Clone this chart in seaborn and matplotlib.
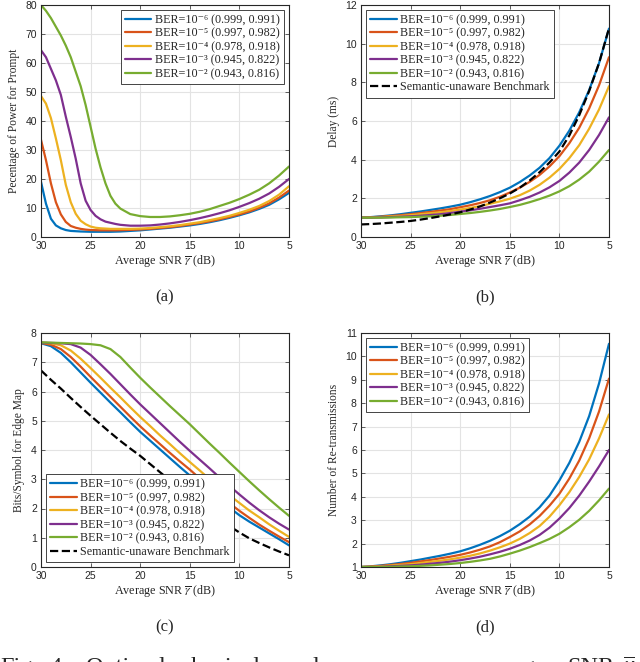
import numpy as np
import pandas as pd
import seaborn as sns
import matplotlib.pyplot as plt

# SNR grids (dB)
snr_a = [30, 29.5, 29, 28.5, 28, 27.5, 27, 26.5, 26, 25.5, 25, 24.5, 24, 23.5, 23, 22.5, 22,
         21, 20, 19, 18, 17, 16, 15, 14, 13, 12, 11, 10, 9, 8, 7, 6, 5]
snr = [30, 29, 28, 27, 26, 25, 24, 23, 22, 21, 20, 19, 18, 17, 16, 15, 14, 13, 12, 11, 10, 9, 8, 7, 6, 5]

labels = ['BER=10\u207b\u2076 (0.999, 0.991)',
          'BER=10\u207b\u2075 (0.997, 0.982)',
          'BER=10\u207b\u2074 (0.978, 0.918)',
          'BER=10\u207b\u00b3 (0.945, 0.822)',
          'BER=10\u207b\u00b2 (0.943, 0.816)']
bench_label = 'Semantic-unaware Benchmark'
colors = ['#0072BD', '#D95319', '#EDB120', '#7E2F8E', '#77AC30']

# (a) percentage of power for prompt
power_ber6 = [19.0, 11.5, 6.3, 4.0, 3.0, 2.4, 2.1, 2.0, 1.9, 1.85, 1.8, 1.8, 1.8, 1.8, 1.8, 1.85, 1.9,
              2.1, 2.3, 2.6, 2.9, 3.2, 3.6, 4.0, 4.5, 5.1, 5.8, 6.6, 7.5, 8.5, 9.7, 11.1, 13.0, 15.2]
power_ber5 = [33.5, 26.5, 18.5, 12.0, 7.8, 5.2, 3.8, 3.2, 2.8, 2.55, 2.4, 2.35, 2.3, 2.3, 2.3, 2.3, 2.35,
              2.45, 2.6, 2.8, 3.1, 3.4, 3.8, 4.3, 4.8, 5.4, 6.1, 6.9, 7.8, 8.8, 10.1, 11.6, 13.6, 16.0]
power_ber4 = [48.6, 46.0, 41.0, 34.0, 26.5, 18.0, 12.0, 8.0, 5.6, 4.4, 3.6, 3.2, 3.0, 2.9, 2.8, 2.8, 2.8,
              2.8, 2.9, 3.1, 3.4, 3.7, 4.1, 4.6, 5.1, 5.8, 6.5, 7.3, 8.3, 9.4, 10.7, 12.4, 14.6, 17.5]
power_ber3 = [64.4, 62.0, 58.0, 54.0, 49.0, 41.5, 34.5, 27.0, 18.5, 12.5, 9.3, 7.3, 6.1, 5.3, 4.9, 4.5, 4.2,
              3.9, 3.9, 4.0, 4.3, 4.7, 5.2, 5.8, 6.5, 7.3, 8.2, 9.2, 10.4, 11.7, 13.2, 15.0, 17.3, 20.0]
power_ber2 = [80.0, 78.0, 75.5, 72.5, 69.5, 66.0, 62.0, 57.0, 52.0, 45.5, 38.0, 30.5, 24.0, 18.5, 14.2, 11.5, 9.8,
              7.9, 7.2, 6.9, 6.9, 7.1, 7.5, 8.0, 8.7, 9.6, 10.7, 11.8, 13.1, 14.6, 16.3, 18.5, 21.2, 24.3]

# (b) delay (ms)
delay_ber6 = [1.00, 1.03, 1.07, 1.12, 1.18, 1.25, 1.32, 1.40, 1.48, 1.57, 1.67, 1.80, 1.95, 2.12, 2.32, 2.55,
              2.84, 3.18, 3.58, 4.08, 4.72, 5.50, 6.45, 7.60, 9.00, 10.78]
delay_ber5 = [1.00, 1.02, 1.05, 1.09, 1.13, 1.18, 1.24, 1.30, 1.37, 1.44, 1.54, 1.64, 1.76, 1.90, 2.08, 2.30,
              2.55, 2.85, 3.21, 3.65, 4.18, 4.85, 5.65, 6.65, 7.85, 9.30]
delay_ber4 = [1.00, 1.01, 1.03, 1.06, 1.09, 1.13, 1.18, 1.23, 1.28, 1.34, 1.42, 1.50, 1.60, 1.72, 1.84, 1.98,
              2.16, 2.40, 2.70, 3.07, 3.52, 4.08, 4.75, 5.60, 6.60, 7.80]
delay_ber3 = [1.00, 1.00, 1.01, 1.03, 1.05, 1.07, 1.10, 1.14, 1.18, 1.24, 1.31, 1.38, 1.46, 1.55, 1.64, 1.74,
              1.90, 2.08, 2.30, 2.57, 2.90, 3.33, 3.85, 4.50, 5.28, 6.19]
delay_ber2 = [1.00, 1.00, 1.00, 1.01, 1.02, 1.03, 1.05, 1.07, 1.10, 1.14, 1.19, 1.24, 1.30, 1.37, 1.45, 1.55,
              1.66, 1.80, 1.96, 2.14, 2.36, 2.63, 2.97, 3.38, 3.90, 4.50]
delay_bench = [0.65, 0.67, 0.70, 0.74, 0.78, 0.83, 0.90, 0.98, 1.07, 1.17, 1.28, 1.42, 1.58, 1.78, 2.00, 2.25,
               2.55, 2.92, 3.35, 3.85, 4.42, 5.25, 6.30, 7.55, 9.00, 10.80]

# (c) bits/symbol for edge map
bits_ber6 = [7.65, 7.55, 7.32, 7.00, 6.65, 6.30, 5.96, 5.62, 5.29, 4.95, 4.62, 4.32, 4.02, 3.72, 3.42, 3.13,
             2.85, 2.57, 2.30, 2.03, 1.77, 1.55, 1.35, 1.15, 0.95, 0.74]
bits_ber5 = [7.66, 7.60, 7.45, 7.18, 6.85, 6.50, 6.16, 5.82, 5.48, 5.14, 4.81, 4.50, 4.20, 3.90, 3.61, 3.33,
             3.03, 2.74, 2.46, 2.18, 1.92, 1.68, 1.45, 1.24, 1.04, 0.85]
bits_ber4 = [7.67, 7.65, 7.58, 7.40, 7.12, 6.80, 6.47, 6.13, 5.80, 5.46, 5.13, 4.82, 4.50, 4.20, 3.89, 3.59,
             3.30, 3.00, 2.72, 2.45, 2.19, 1.93, 1.70, 1.46, 1.24, 1.03]
bits_ber3 = [7.67, 7.66, 7.65, 7.62, 7.50, 7.25, 6.93, 6.60, 6.25, 5.90, 5.56, 5.24, 4.92, 4.60, 4.28, 3.97,
             3.67, 3.37, 3.06, 2.77, 2.48, 2.20, 1.94, 1.70, 1.48, 1.28]
bits_ber2 = [7.68, 7.67, 7.66, 7.65, 7.64, 7.62, 7.58, 7.45, 7.18, 6.82, 6.47, 6.14, 5.82, 5.50, 5.19, 4.88,
             4.55, 4.22, 3.90, 3.57, 3.25, 2.93, 2.62, 2.32, 2.03, 1.75]
bits_bench = [6.72, 6.40, 6.10, 5.78, 5.47, 5.17, 4.88, 4.59, 4.31, 4.05, 3.80, 3.52, 3.24, 2.96, 2.69, 2.42,
              2.16, 1.90, 1.65, 1.40, 1.18, 0.98, 0.82, 0.67, 0.53, 0.40]

# (d) number of re-transmissions
retx_ber6 = [1.00, 1.03, 1.07, 1.12, 1.18, 1.25, 1.32, 1.40, 1.48, 1.57, 1.67, 1.80, 1.95, 2.12, 2.32, 2.55,
             2.83, 3.15, 3.55, 4.05, 4.70, 5.45, 6.35, 7.45, 8.85, 10.54]
retx_ber5 = [1.00, 1.02, 1.05, 1.09, 1.13, 1.18, 1.24, 1.30, 1.37, 1.44, 1.52, 1.62, 1.74, 1.88, 2.06, 2.28,
             2.52, 2.82, 3.18, 3.62, 4.13, 4.78, 5.55, 6.50, 7.65, 9.05]
retx_ber4 = [1.00, 1.01, 1.03, 1.06, 1.09, 1.12, 1.17, 1.22, 1.27, 1.33, 1.40, 1.48, 1.58, 1.70, 1.84, 2.00,
             2.20, 2.45, 2.75, 3.15, 3.64, 4.20, 4.85, 5.60, 6.50, 7.52]
retx_ber3 = [1.00, 1.00, 1.01, 1.03, 1.05, 1.07, 1.10, 1.14, 1.18, 1.23, 1.29, 1.36, 1.44, 1.54, 1.65, 1.78,
             1.94, 2.13, 2.37, 2.68, 3.07, 3.52, 4.05, 4.65, 5.30, 6.00]
retx_ber2 = [1.00, 1.00, 1.00, 1.01, 1.02, 1.03, 1.05, 1.07, 1.10, 1.13, 1.17, 1.22, 1.28, 1.35, 1.45, 1.57,
             1.70, 1.85, 2.02, 2.20, 2.42, 2.70, 3.02, 3.40, 3.85, 4.35]

# caption words (the bottom line is cut off by the page edge in the original)
caption_words = ['Fig.', '4:', 'Optimal', 'physical', 'layer', 'versus', 'average', 'SNR', r'$\overline{\gamma}$']
caption_x = [0, 49, 86, 180, 313, 385, 470, 567, 623]

sns.set_style("whitegrid", rc={
    "axes.edgecolor": "#262626", "axes.linewidth": 0.6,
    "grid.color": "#e3e3e3", "grid.linewidth": 0.6,
    "xtick.direction": "in", "ytick.direction": "in",
    "xtick.bottom": True, "xtick.top": True, "ytick.left": True, "ytick.right": True,
    "xtick.color": "#262626", "ytick.color": "#262626",
})
plt.rcParams['font.family'] = ['Liberation Sans', 'DejaVu Sans']
plt.rcParams['mathtext.fontset'] = 'stix'
serif = ['Liberation Serif', 'DejaVu Serif']


def long_table(x, series):
    frames = [pd.DataFrame({'snr': x, 'val': v, 'case': lab}) for lab, v in zip(labels, series)]
    return pd.concat(frames, ignore_index=True)


def draw(ax, x, series, ylabel, yticks, ylim, bench=None, loc='upper right'):
    df = long_table(x, series)
    sns.lineplot(data=df, x='snr', y='val', hue='case', hue_order=labels, palette=colors,
                 estimator=None, sort=False, linewidth=1.6, ax=ax)
    if bench is not None:
        sns.lineplot(x=x, y=bench, color='black', linestyle='--', linewidth=1.6,
                     estimator=None, sort=False, label=bench_label, ax=ax)
    ax.set_xlim(30, 5)
    ax.set_xticks([30, 25, 20, 15, 10, 5])
    ax.set_ylim(*ylim)
    ax.set_yticks(yticks)
    ax.tick_params(labelsize=7.5, length=3, width=0.5, pad=3)
    ax.set_xlabel(r'Average SNR $\overline{\gamma}$ (dB)', family=serif, fontsize=8.7, labelpad=1.5)
    ax.set_ylabel(ylabel, family=serif, fontsize=8.3, labelpad=4)
    leg = ax.legend(loc=loc, prop={'family': serif, 'size': 8.7}, frameon=True, fancybox=False,
                    edgecolor='#262626', framealpha=1, handlelength=2.2, handletextpad=0.3,
                    labelspacing=0.12, borderpad=0.35, borderaxespad=0.4)
    leg.get_frame().set_linewidth(0.6)
    for spine in ax.spines.values():
        spine.set_visible(True)


fig = plt.figure(figsize=(6.4, 6.62), dpi=100)
W, H = 640, 662
ax_a = fig.add_axes([41 / W, 1 - 237 / H, 248 / W, 232 / H])
ax_b = fig.add_axes([361 / W, 1 - 237 / H, 248 / W, 232 / H])
ax_c = fig.add_axes([41 / W, 1 - 567 / H, 248 / W, 234 / H])
ax_d = fig.add_axes([361 / W, 1 - 567 / H, 248 / W, 234 / H])

draw(ax_a, snr_a, [power_ber6, power_ber5, power_ber4, power_ber3, power_ber2],
     'Pecentage of Power for Prompt', range(0, 81, 10), (0, 80), loc='upper right')
draw(ax_b, snr, [delay_ber6, delay_ber5, delay_ber4, delay_ber3, delay_ber2],
     'Delay (ms)', range(0, 13, 2), (0, 12), bench=delay_bench, loc='upper left')
draw(ax_c, snr, [bits_ber6, bits_ber5, bits_ber4, bits_ber3, bits_ber2],
     'Bits/Symbol for Edge Map', range(0, 9), (0, 8), bench=bits_bench, loc='lower left')
draw(ax_d, snr, [retx_ber6, retx_ber5, retx_ber4, retx_ber3, retx_ber2],
     'Number of Re-transmissions', range(1, 12), (1, 11), loc='upper left')

for lab, xc, yc in [('(a)', 165, 297), ('(b)', 485, 297), ('(c)', 165, 627), ('(d)', 485, 627)]:
    fig.text(xc / W, 1 - yc / H, lab, ha='center', va='center', family=serif, fontsize=12)

# caption line: only the tops of the tallest letters fall inside the picture
for word, xw in zip(caption_words, caption_x):
    fig.text(xw / W, 1 - 673 / H, word, ha='left', va='baseline', family=serif, fontsize=17.5)

fig.savefig('out.png', dpi=100)
